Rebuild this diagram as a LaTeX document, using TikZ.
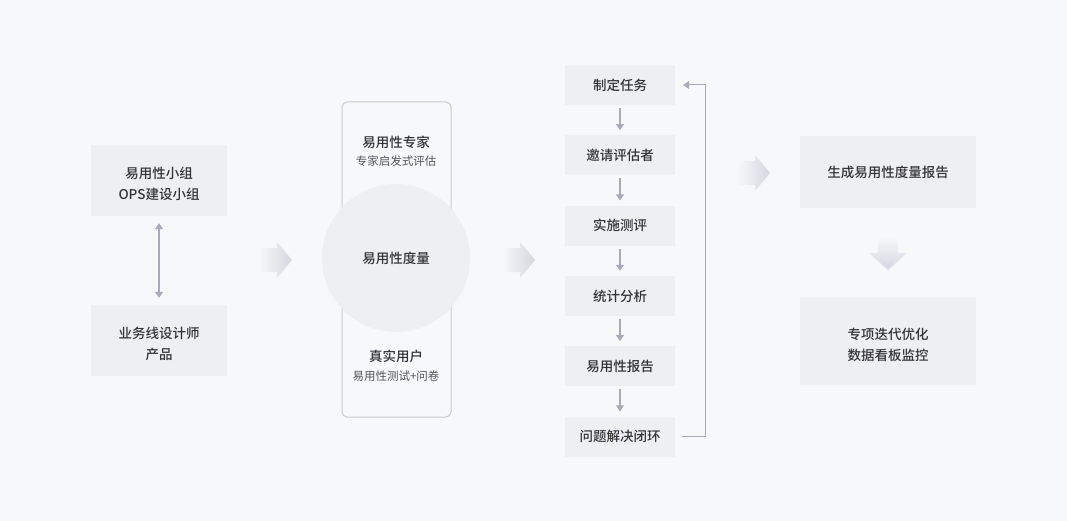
\documentclass[tikz,border=0pt]{standalone}
\usepackage{fontspec}
\setmainfont{Noto Sans CJK SC}[BoldFont={Noto Sans CJK SC Medium}]
\usetikzlibrary{arrows.meta,calc}
\definecolor{bgc}{HTML}{F7F8FA}
\definecolor{boxc}{HTML}{EEEFF3}
\definecolor{txtc}{HTML}{333333}
\definecolor{subc}{HTML}{555555}
\definecolor{arrc}{HTML}{A8A9BA}
\definecolor{fadec}{HTML}{D6D7DF}
\definecolor{framec}{HTML}{C8C9D4}
\newcommand{\topstrut}{\rule{0pt}{19pt}}
\tikzset{
  box/.style={fill=boxc, draw=none, inner sep=0pt, align=center, text=txtc,
    font=\fontsize{13.5}{21}\selectfont\bfseries},
  stepbox/.style={box, minimum width=110pt, minimum height=40pt},
  sidebox/.style={box, minimum width=136pt, minimum height=71pt},
  bigbox/.style={box, minimum width=176pt},
  plain/.style={text=txtc, font=\fontsize{13.5}{20}\selectfont\bfseries, inner sep=0pt},
  small/.style={text=subc, font=\fontsize{11.5}{14}\selectfont, inner sep=0pt},
  flowarr/.style={draw=arrc, line width=1.1pt, -{Triangle[width=8pt,length=6pt]}},
  dblarr/.style={draw=arrc, line width=1.1pt, {Triangle[width=8pt,length=6pt]}-{Triangle[width=8pt,length=6pt]}},
  looparr/.style={draw=arrc, line width=1pt, -{Triangle[width=8pt,length=6pt]}},
  fadeh/.style={left color=bgc, right color=fadec, draw=none},
  fadev/.style={top color=bgc, bottom color=fadec, draw=none},
}
\begin{document}
\begin{tikzpicture}[x=1pt,y=-1pt]
\useasboundingbox (0,0) rectangle (1067,521);
\fill[bgc] (0,0) rectangle (1067,521);

% left column
\node[sidebox] (g1) at (159,180.5) {\topstrut 易用性小组\\OPS建设小组};
\node[sidebox] (g2) at (159,340.5) {\topstrut 业务线设计师\\产品};
\draw[dblarr, shorten <=7pt, shorten >=7pt] (g1) -- (g2);

% gradient arrow 1
\shade[fadeh] (259,248) -- (277,248) -- (277,242) -- (292,260) -- (277,278) -- (277,272) -- (259,272) -- cycle;

% middle frame
\node[draw=framec, line width=1pt, rounded corners=5pt, minimum width=109pt, minimum height=315pt, inner sep=0pt] (frame) at (396.5,259.5) {};
\node[circle, fill=boxc, minimum size=148pt, inner sep=0pt] (circ) at (396,258) {};
\node[plain] (mc) at (circ.center) {易用性度量};
\node[plain] (ex) at (396,142) {易用性专家};
\node[small] (exs) at (396,161) {专家启发式评估};
\node[plain] (us) at (396,356) {真实用户};
\node[small] (uss) at (396,376) {易用性测试+问卷};

% gradient arrow 2
\shade[fadeh] (502,248) -- (520,248) -- (520,242) -- (535,260) -- (520,278) -- (520,272) -- (502,272) -- cycle;

% steps column
\node[stepbox] (t1) at (620,85) {制定任务};
\node[stepbox] (t2) at (620,155.3) {邀请评估者};
\node[stepbox] (t3) at (620,225.6) {实施测评};
\node[stepbox] (t4) at (620,296) {统计分析};
\node[stepbox] (t5) at (620,366.2) {易用性报告};
\node[stepbox] (t6) at (620,436.5) {问题解决闭环};
\foreach \a/\b in {t1/t2,t2/t3,t3/t4,t4/t5,t5/t6}
  \draw[flowarr, shorten <=3pt, shorten >=5pt] (\a) -- (\b);
\coordinate (loopx) at (705,0);
\draw[looparr, shorten <=7pt, shorten >=8pt] (t6.east) -- (t6.east -| loopx) -- (t1.east -| loopx) -- (t1.east);

% gradient arrow 3
\shade[fadeh] (737,161) -- (755,161) -- (755,155) -- (770,173) -- (755,191) -- (755,185) -- (737,185) -- cycle;

% right column
\node[bigbox, minimum height=72pt] (r1) at (888,172) {生成易用性度量报告};
\node[bigbox, minimum height=88pt] (r2) at (888,341) {\topstrut 专项迭代优化\\数据看板监控};

% down gradient arrow
\shade[fadev] (878,237) -- (898,237) -- (898,253) -- (907,253) -- (888,270) -- (869,253) -- (878,253) -- cycle;
\end{tikzpicture}
\end{document}
